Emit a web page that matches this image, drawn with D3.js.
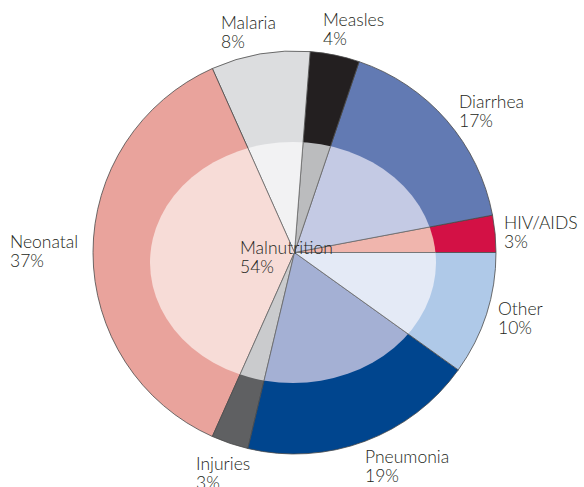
<!DOCTYPE html>
<meta charset="utf-8">
<script src="https://d3js.org/d3.v7.min.js"></script>
<style>
  body { margin: 0; background: #fff; }
  svg text {
    font-family: Lato, "Open Sans", sans-serif;
    font-weight: 300;
    font-size: 17.5px;
    fill: #231f20;
  }
</style>
<body>
<script>
  // counter-clockwise from 3 o'clock
  var causes = ["HIV/AIDS", "Diarrhea", "Measles", "Malaria", "Neonatal", "Injuries", "Pneumonia", "Other"];
  var shares = [3, 17, 4, 8, 37, 3, 19, 10];
  var outerColors = ["#d31145", "#627ab3", "#231f20", "#dcdddf", "#e9a39c", "#5f6062", "#00458e", "#afc9e8"];
  var innerColors = ["#f0b5ad", "#c4cae4", "#bbbcbe", "#f2f2f3", "#f7dcd7", "#cacbcd", "#a4b0d4", "#e4eaf6"];
  var overlayLabel = "Malnutrition";
  var overlayShare = 54;

  // label anchor points (left, first baseline)
  var labelPos = {
    "HIV/AIDS": [504, 229], "Diarrhea": [459, 108], "Measles": [323, 26], "Malaria": [221, 29],
    "Neonatal": [10, 248], "Injuries": [196, 470], "Pneumonia": [365, 463], "Other": [498, 315]
  };

  var width = 584, height = 487;
  var cx = 294.5, cy = 252.5, r = 201.5;

  var svg = d3.select("body").append("svg")
    .attr("width", width)
    .attr("height", height);

  var data = causes.map(function(c, i) {
    return { name: c, value: shares[i], outer: outerColors[i], inner: innerColors[i] };
  });

  var pie = d3.pie()
    .sort(null)
    .value(function(d) { return d.value; })
    .startAngle(Math.PI / 2)
    .endAngle(Math.PI / 2 - 2 * Math.PI);

  var arc = d3.arc().innerRadius(0).outerRadius(r);
  var arcs = pie(data);

  svg.append("defs").append("clipPath").attr("id", "ell")
    .append("ellipse")
    .attr("cx", 293).attr("cy", 262.5)
    .attr("rx", 143).attr("ry", 120.5);

  var g = svg.append("g").attr("transform", "translate(" + cx + "," + cy + ")");

  g.selectAll("path.outer")
    .data(arcs)
    .enter().append("path")
    .attr("class", "outer")
    .attr("d", arc)
    .attr("fill", function(d) { return d.data.outer; })
    .attr("stroke", "#4a4a4a")
    .attr("stroke-width", 0.8);

  var gi = svg.append("g").attr("clip-path", "url(#ell)")
    .append("g").attr("transform", "translate(" + cx + "," + cy + ")");

  gi.selectAll("path.inner")
    .data(arcs)
    .enter().append("path")
    .attr("class", "inner")
    .attr("d", arc)
    .attr("fill", function(d) { return d.data.inner; })
    .attr("stroke", "#6a6a6a")
    .attr("stroke-width", 0.8);

  var labels = svg.selectAll("text.lab")
    .data(data)
    .enter().append("text")
    .attr("class", "lab")
    .attr("x", function(d) { return labelPos[d.name][0]; })
    .attr("y", function(d) { return labelPos[d.name][1]; });

  labels.append("tspan").text(function(d) { return d.name; });
  labels.append("tspan")
    .attr("x", function(d) { return labelPos[d.name][0]; })
    .attr("dy", 18.5)
    .text(function(d) { return d.value + "%"; });

  var mt = svg.append("text").attr("x", 240).attr("y", 254);
  mt.append("tspan").text(overlayLabel);
  mt.append("tspan").attr("x", 240).attr("dy", 18.5).text(overlayShare + "%");
</script>
</body>
